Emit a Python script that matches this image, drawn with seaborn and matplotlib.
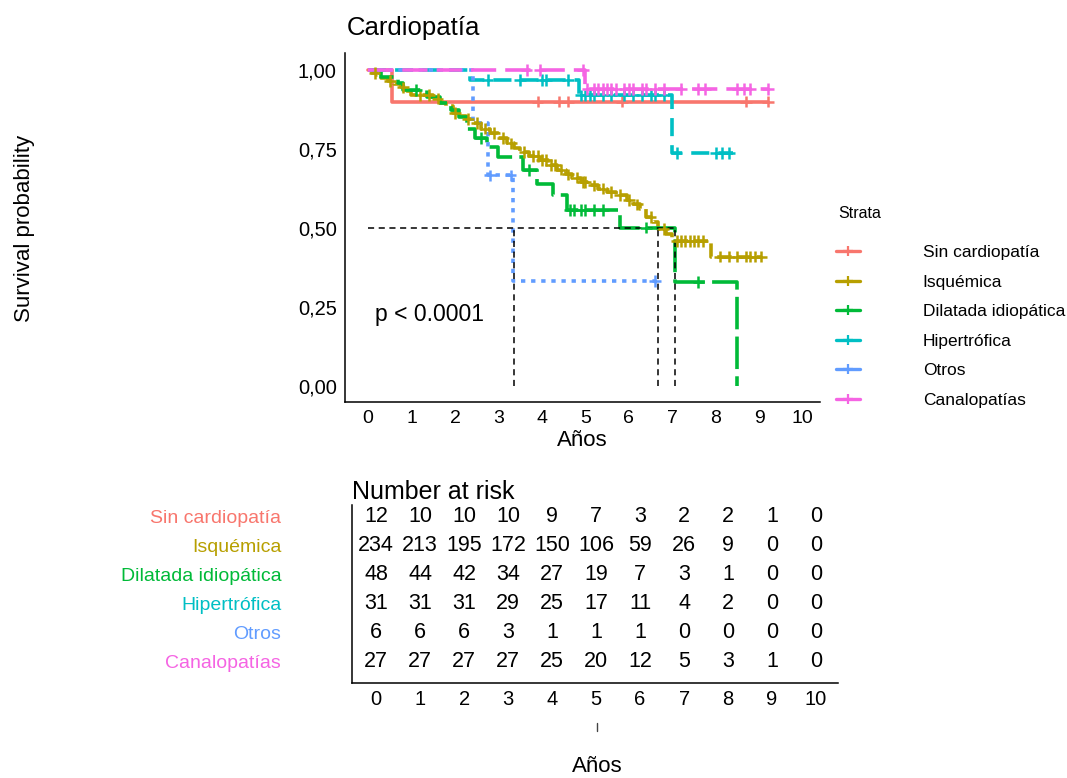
import numpy as np
import pandas as pd
import matplotlib
matplotlib.use("Agg")
import matplotlib.pyplot as plt
from matplotlib.lines import Line2D
import seaborn as sns

# ---------------- data ----------------
strata = ["Sin cardiopatía", "Isquémica", "Dilatada idiopática",
          "Hipertrófica", "Otros", "Canalopatías"]
colors = ["#F8766D", "#B79F00", "#00BA38", "#00BFC4", "#619CFF", "#F564E3"]

sin_t = [0, 0.55, 9.2]
sin_s = [1.0, 0.90, 0.90]
sin_c = [3.9, 4.4, 4.6, 5.85, 8.7, 9.2]

isq_t = [0, 0.1, 0.2, 0.3, 0.45, 0.6, 0.75, 0.9, 1.0, 1.5, 1.65, 1.8, 1.95, 2.1,
         2.25, 2.4, 2.6, 2.8, 3.0, 3.2, 3.35, 3.5, 3.7, 3.95, 4.15, 4.35, 4.55,
         4.7, 4.9, 5.1, 5.3, 5.5, 5.7, 5.95, 6.1, 6.25, 6.4, 6.55, 6.67, 6.85,
         7.0, 7.9, 9.05]
isq_s = [1.0, 0.99, 0.983, 0.975, 0.965, 0.955, 0.945, 0.935, 0.922, 0.91, 0.895,
         0.885, 0.865, 0.855, 0.845, 0.832, 0.815, 0.80, 0.785, 0.768, 0.755, 0.74,
         0.728, 0.715, 0.70, 0.685, 0.67, 0.66, 0.645, 0.635, 0.625, 0.615, 0.605,
         0.589, 0.575, 0.56, 0.535, 0.52, 0.498, 0.48, 0.46, 0.41, 0.41]
isq_c = [0.15, 0.5, 0.8, 1.2, 1.4, 1.6, 2.0, 2.3, 2.5, 2.7, 2.9, 3.1, 3.3, 3.6, 3.8,
         3.9, 4.0, 4.1, 4.2, 4.3, 4.45, 4.6, 4.8, 4.95, 5.0, 5.2, 5.4, 5.6, 5.8, 6.0,
         6.2, 6.5, 6.8, 7.1, 7.2, 7.3, 7.4, 7.5, 7.6, 7.7, 8.1, 8.3, 8.5, 8.7, 8.8,
         8.9, 9.05]

dil_t = [0, 0.3, 0.7, 0.8, 1.35, 1.65, 1.9, 2.1, 2.27, 2.45, 2.73, 2.99, 3.57,
         3.88, 4.25, 4.57, 5.8, 7.06, 8.5]
dil_s = [1.0, 0.979, 0.958, 0.937, 0.915, 0.895, 0.875, 0.853, 0.815, 0.785, 0.757,
         0.725, 0.683, 0.64, 0.605, 0.557, 0.502, 0.33, 0.0]
dil_c = [1.1, 2.6, 3.7, 4.65, 4.75, 4.9, 5.0, 5.2, 5.4, 6.4, 7.6]

hip_t = [0, 2.35, 4.85, 7.0, 8.4]
hip_s = [1.0, 0.968, 0.92, 0.737, 0.737]
hip_c = [2.75, 3.5, 4.0, 4.1, 4.6, 4.9, 5.0, 5.1, 5.2, 5.4, 5.6, 5.9, 6.1, 6.3, 6.5,
         6.6, 6.8, 7.1, 8.0, 8.15, 8.3]

otr_t = [0, 2.42, 2.76, 3.33, 6.6]
otr_s = [1.0, 0.833, 0.667, 0.333, 0.333]
otr_c = [2.8, 3.28, 6.6]

can_t = [0, 5.0, 9.2]
can_s = [1.0, 0.94, 0.94]
can_c = [3.65, 3.95, 4.95, 5.05, 5.2, 5.3, 5.4, 5.5, 5.6, 5.7, 5.9, 6.0, 6.1, 6.3,
         6.4, 6.6, 6.8, 7.2, 7.6, 7.75, 8.5, 8.65, 8.8, 9.2]

medians = [3.35, 6.67, 7.06]

risk_times = list(range(0, 11))
risk_sin = [12, 10, 10, 10, 9, 7, 3, 2, 2, 1, 0]
risk_isq = [234, 213, 195, 172, 150, 106, 59, 26, 9, 0, 0]
risk_dil = [48, 44, 42, 34, 27, 19, 7, 3, 1, 0, 0]
risk_hip = [31, 31, 31, 29, 25, 17, 11, 4, 2, 0, 0]
risk_otr = [6, 6, 6, 3, 1, 1, 1, 0, 0, 0, 0]
risk_can = [27, 27, 27, 27, 25, 20, 12, 5, 3, 1, 0]

y_ticks = [0, 0.25, 0.5, 0.75, 1.0]
y_ticklabels = ["0,00", "0,25", "0,50", "0,75", "1,00"]

# ---------------- build frames ----------------
curves = [(sin_t, sin_s, sin_c), (isq_t, isq_s, isq_c), (dil_t, dil_s, dil_c),
          (hip_t, hip_s, hip_c), (otr_t, otr_s, otr_c), (can_t, can_s, can_c)]
risk = [risk_sin, risk_isq, risk_dil, risk_hip, risk_otr, risk_can]

line_rows, cens_rows = [], []
for name, (t, s, c) in zip(strata, curves):
    for ti, si in zip(t, s):
        line_rows.append((name, ti, si))
    for ci in c:
        idx = np.searchsorted(t, ci, side="right") - 1
        cens_rows.append((name, ci, s[idx]))
lines_df = pd.DataFrame(line_rows, columns=["strata", "time", "surv"])
cens_df = pd.DataFrame(cens_rows, columns=["strata", "time", "surv"])

palette = dict(zip(strata, colors))
dash_map = {
    "Sin cardiopatía": "",
    "Isquémica": (4, 1.5),
    "Dilatada idiopática": (9, 2),
    "Hipertrófica": (5, 2.5),
    "Otros": (1.2, 1.6),
    "Canalopatías": (7, 2.5),
}

# ---------------- figure ----------------
sns.set_style("white")
plt.rcParams["font.family"] = ["Liberation Sans", "DejaVu Sans"]
for key in ["text.color", "axes.labelcolor", "xtick.color", "ytick.color",
            "axes.edgecolor"]:
    plt.rcParams[key] = "black"

fig = plt.figure(figsize=(10.67, 7.78), dpi=100)
ax = fig.add_axes([345 / 1067, 1 - 402 / 778, (820 - 345) / 1067, (402 - 53) / 778])

sns.lineplot(data=lines_df, x="time", y="surv", hue="strata", style="strata",
             hue_order=strata, style_order=strata, palette=palette, dashes=dash_map,
             drawstyle="steps-post", estimator=None, linewidth=2.6, legend=False,
             ax=ax)
sns.scatterplot(data=cens_df, x="time", y="surv", hue="strata", hue_order=strata,
                palette=palette, marker="+", s=70, linewidth=1.8, legend=False,
                ax=ax, zorder=3)

# median survival lines
ax.plot([0, max(medians)], [0.5, 0.5], color="black", lw=1.1, ls=(0, (4, 3)))
for m in medians:
    ax.plot([m, m], [0, 0.5], color="black", lw=1.1, ls=(0, (4, 3)))

ax.set_xlim(-0.53, 10.4)
ax.set_ylim(-0.05, 1.054)
ax.set_xticks(risk_times)
ax.set_yticks(y_ticks)
ax.set_yticklabels(y_ticklabels)
ax.tick_params(axis="both", direction="out", length=4, width=1, color="black",
               labelcolor="black")
ax.tick_params(axis="x", labelsize=14, pad=2)
ax.tick_params(axis="y", labelsize=14.5, pad=2)
for sp in ["top", "right"]:
    ax.spines[sp].set_visible(False)
for sp in ["left", "bottom"]:
    ax.spines[sp].set_color("black")
    ax.spines[sp].set_linewidth(1.1)
ax.set_xlabel("Años", fontsize=16, labelpad=2, color="black")
ax.set_ylabel("")
ax.text(0.15, 0.205, "p < 0.0001", fontsize=16.5, color="black")
fig.text(347 / 1067, 1 - 28 / 778, "Cardiopatía", fontsize=18.5, va="center",
         ha="left", color="black")
fig.text(25 / 1067, 1 - 228 / 778, "Survival probability", fontsize=16,
         rotation=90, va="center", ha="center", color="black")

# legend
fig.text(838 / 1067, 1 - 213 / 778, "Strata", fontsize=11.5, ha="left",
         va="center", color="black")
handles = [Line2D([0], [0], color=c, lw=2.4, marker="+", markersize=7,
                  markeredgewidth=1.6) for c in colors]
leg = fig.legend(handles, strata, loc="upper left",
                 bbox_to_anchor=(836 / 1067, 1 - 245 / 778), frameon=False,
                 fontsize=12.5, handlelength=1.4,
                 handletextpad=3.6, labelspacing=0.83, borderpad=0,
                 borderaxespad=0)
for txt in leg.get_texts():
    txt.set_color("black")

# ---------------- risk table ----------------
rax = fig.add_axes([352 / 1067, 1 - 683 / 778, (838 - 352) / 1067, (683 - 505) / 778])
rows = [6, 5, 4, 3, 2, 1]
for row, vals in zip(rows, risk):
    for t, v in zip(risk_times, vals):
        rax.text(t, row, str(v), ha="center", va="center", fontsize=15.5,
                 color="black")
rax.set_xlim(-0.55, 10.5)
rax.set_ylim(0.25, 6.4)
rax.set_xticks(risk_times)
rax.set_yticks(rows)
rax.set_yticklabels(strata)
for lbl, c in zip(rax.get_yticklabels(), colors):
    lbl.set_color(c)
rax.tick_params(axis="y", direction="out", length=3, width=1, color="black",
                labelsize=14, pad=48)
rax.tick_params(axis="x", direction="out", length=4, width=1, color="black",
                labelcolor="black", labelsize=14.5, pad=1)
for sp in ["top", "right"]:
    rax.spines[sp].set_visible(False)
for sp in ["left", "bottom"]:
    rax.spines[sp].set_color("black")
    rax.spines[sp].set_linewidth(1.1)
rax.set_title("Number at risk", loc="left", fontsize=18, pad=4, x=0.0,
              color="black")
rax.set_xlabel("")
fig.text(597 / 1067, 1 - 767 / 778, "Años", fontsize=16, ha="center",
         va="center", color="black")
fig.add_artist(Line2D([597 / 1067, 597 / 1067], [1 - 723 / 778, 1 - 731 / 778],
                      color="#444444", lw=1))

fig.savefig("out.png", dpi=100)
